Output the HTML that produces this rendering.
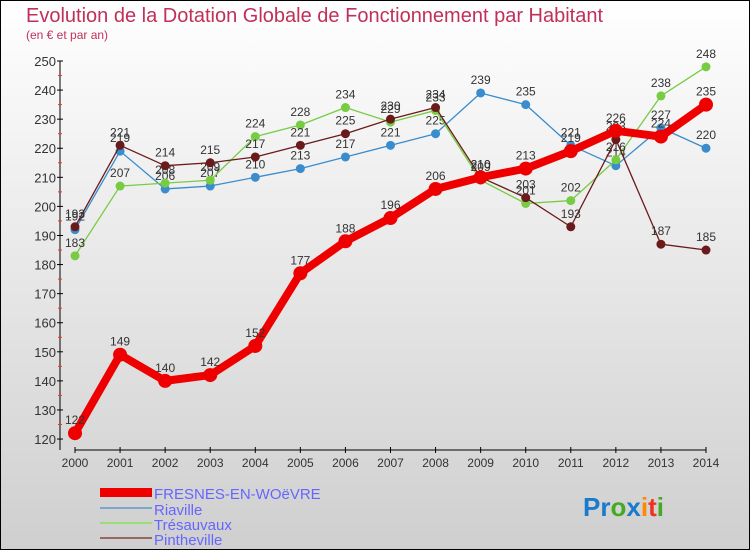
<!DOCTYPE html>
<html><head><meta charset="utf-8"><style>
body{margin:0;}
#wrap{width:750px;height:550px;position:relative;overflow:hidden;font-family:"Liberation Sans",sans-serif;}
</style></head><body>
<div id="wrap">
<svg id="svg" width="750" height="550" xmlns="http://www.w3.org/2000/svg">
<defs><linearGradient id="bg" x1="0" y1="0" x2="0" y2="1"><stop offset="0" stop-color="#ffffff"/><stop offset="1" stop-color="#cfcfcf"/></linearGradient></defs>
<rect x="0.5" y="0.5" width="749" height="549" fill="url(#bg)" stroke="#000"/>
<text x="26" y="22" font-size="20" fill="#c0305a">Evolution de la Dotation Globale de Fonctionnement par Habitant</text>
<text x="26" y="39" font-size="12" fill="#c0305a">(en € et par an)</text>
<g id="axes"></g><g id="series"></g>
<g>
<rect x="100" y="488" width="52" height="9" fill="#e00"/>
<text x="154" y="499" font-size="15" fill="#6666ff">FRESNES-EN-WOëVRE</text>
<line x1="100" y1="508" x2="152" y2="508" stroke="#7aa8cc" stroke-width="2"/>
<text x="154" y="515" font-size="15" fill="#6666ff">Riaville</text>
<line x1="100" y1="523" x2="152" y2="523" stroke="#99dd77" stroke-width="2"/>
<text x="154" y="530" font-size="15" fill="#6666ff">Trésauvaux</text>
<line x1="100" y1="538" x2="152" y2="538" stroke="#996666" stroke-width="2"/>
<text x="154" y="545" font-size="15" fill="#6666ff">Pintheville</text>
</g>
<text x="583" y="516" font-size="26" font-weight="bold"><tspan fill="#1a7acc">Pr</tspan><tspan fill="#44aa22">o</tspan><tspan fill="#1a7acc">x</tspan><tspan fill="#ff8800">i</tspan><tspan fill="#ee3322">t</tspan><tspan fill="#44aa22">i</tspan></text>
</svg></div>
<script>
const years=[2000,2001,2002,2003,2004,2005,2006,2007,2008,2009,2010,2011,2012,2013,2014];
const yTicks=[120,130,140,150,160,170,180,190,200,210,220,230,240,250];
const fresnes=[122,149,140,142,152,177,188,196,206,210,213,219,226,224,235];
const riaville=[192,219,206,207,210,213,217,221,225,239,235,221,214,227,220];
const tresauvaux=[183,207,208,209,224,228,234,229,233,209,201,202,216,238,248];
const pintheville=[193,221,214,215,217,221,225,230,234,210,203,193,223,187,185];
const NS="http://www.w3.org/2000/svg";
function xs(i){return 75+i*(631/14);}
function ys(v){return 61+(250-v)*2.908;}
function mk(tag,attrs,parent){const e=document.createElementNS(NS,tag);for(const k in attrs)e.setAttribute(k,attrs[k]);parent.appendChild(e);return e;}
const ax=document.getElementById('axes');
let a=mk('line',{x1:60,y1:ys(250),x2:60,y2:450,stroke:'#000'},ax);


a=mk('line',{x1:75,y1:450,x2:706,y2:450,stroke:'#000'},ax);


yTicks.forEach(v=>{
 mk('line',{x1:57,y1:ys(v),x2:63,y2:ys(v),stroke:'#000'},ax);
 if(v<250) mk('line',{x1:58,y1:ys(v+5),x2:62,y2:ys(v+5),stroke:'#e33'},ax);
 const t=mk('text',{x:56,y:ys(v)+5,'font-size':13,'text-anchor':'end',fill:'#333'},ax);t.textContent=v;
 
 
});
years.forEach((y,i)=>{
 mk('line',{x1:xs(i),y1:447,x2:xs(i),y2:453,stroke:'#000'},ax);
 const t=mk('text',{x:xs(i),y:467,'font-size':12,'text-anchor':'middle',fill:'#333'},ax);t.textContent=y;
 
 
});
const sg=document.getElementById('series');
function draw(data,color,w,r,name,labelColor){
 const g=mk('g',{},sg);
 
 
 const pts=data.map((v,i)=>xs(i)+','+ys(v)).join(' ');
 const l=mk('polyline',{points:pts,fill:'none',stroke:color,'stroke-width':w,'stroke-linejoin':'round'},g);
 
 
 data.forEach((v,i)=>{
  const c=mk('circle',{cx:xs(i),cy:ys(v),r:r,fill:color},g);
  
  
  const t=mk('text',{x:xs(i),y:ys(v)-9,'font-size':12,'text-anchor':'middle',fill:'#333'},g);t.textContent=v;
  
  
 });
}
draw(riaville,'#3a8ccc',1.3,4.5,'riaville');
draw(tresauvaux,'#77cc44',1.3,4.5,'tresauvaux');
draw(pintheville,'#6a1a1a',1.3,4.5,'pintheville');
draw(fresnes,'#ee0000',8,7,'fresnes');
</script>
</body></html>
